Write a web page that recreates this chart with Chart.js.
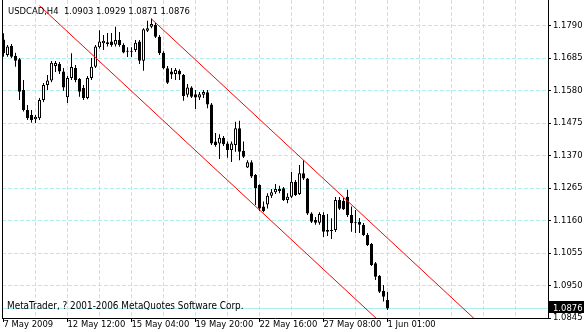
<!DOCTYPE html>
<html>
<head>
<meta charset="utf-8">
<script src="https://cdn.jsdelivr.net/npm/chart.js@4"></script>
<style>
  html, body { margin: 0; padding: 0; background: #fff; }
</style>
</head>
<body>
<canvas id="chart" width="584" height="332"></canvas>
<script>
// USDCAD H4 candles, one entry per bar (bar 0 = 7 May 2009)
const opens = [1.1745, 1.1695, 1.1724, 1.1692, 1.1681, 1.1582, 1.1517, 1.1501, 1.1487, 1.1490,
  1.1549, 1.1598, 1.1612, 1.1659, 1.1666, 1.1641, 1.1558, 1.1620, 1.1653, 1.1617,
  1.1588, 1.1556, 1.1620, 1.1657, 1.1720, 1.1733, 1.1736, 1.1738, 1.1729, 1.1743,
  1.1727, 1.1707, 1.1705, 1.1711, 1.1738, 1.1676, 1.1773, 1.1786, 1.1792, 1.1754,
  1.1702, 1.1652, 1.1641, 1.1633, 1.1644, 1.1630, 1.1566, 1.1590, 1.1568, 1.1557,
  1.1566, 1.1574, 1.1535, 1.1415, 1.1409, 1.1427, 1.1409, 1.1388, 1.1404, 1.1458,
  1.1385, 1.1331, 1.1348, 1.1307, 1.1275, 1.1205, 1.1212, 1.1240, 1.1251, 1.1262,
  1.1264, 1.1226, 1.1237, 1.1285, 1.1246, 1.1313, 1.1296, 1.1183, 1.1162, 1.1153,
  1.1178, 1.1124, 1.1129, 1.1129, 1.1226, 1.1224, 1.1237, 1.1178, 1.1151, 1.1156,
  1.1146, 1.1113, 1.1084, 1.1022, 1.0981, 1.0933, 1.0903];
const highs = [1.1765, 1.1727, 1.1730, 1.1702, 1.1685, 1.1614, 1.1533, 1.1517, 1.1501, 1.1556,
  1.1604, 1.1630, 1.1675, 1.1675, 1.1672, 1.1653, 1.1627, 1.1700, 1.1662, 1.1620,
  1.1598, 1.1627, 1.1685, 1.1727, 1.1775, 1.1759, 1.1766, 1.1766, 1.1786, 1.1769,
  1.1733, 1.1720, 1.1720, 1.1743, 1.1743, 1.1781, 1.1805, 1.1813, 1.1798, 1.1759,
  1.1707, 1.1659, 1.1653, 1.1653, 1.1649, 1.1633, 1.1601, 1.1594, 1.1582, 1.1575,
  1.1582, 1.1582, 1.1540, 1.1443, 1.1439, 1.1433, 1.1415, 1.1415, 1.1479, 1.1482,
  1.1415, 1.1355, 1.1355, 1.1310, 1.1277, 1.1221, 1.1248, 1.1262, 1.1278, 1.1272,
  1.1268, 1.1248, 1.1317, 1.1291, 1.1339, 1.1355, 1.1297, 1.1187, 1.1171, 1.1187,
  1.1187, 1.1181, 1.1167, 1.1236, 1.1236, 1.1233, 1.1259, 1.1205, 1.1194, 1.1168,
  1.1152, 1.1120, 1.1087, 1.1026, 1.0984, 1.0952, 1.0929];
const lows = [1.1689, 1.1689, 1.1685, 1.1657, 1.1549, 1.1512, 1.1485, 1.1476, 1.1475, 1.1485,
  1.1543, 1.1582, 1.1607, 1.1640, 1.1633, 1.1579, 1.1540, 1.1614, 1.1607, 1.1560,
  1.1549, 1.1552, 1.1614, 1.1653, 1.1716, 1.1711, 1.1722, 1.1721, 1.1722, 1.1721,
  1.1700, 1.1688, 1.1688, 1.1704, 1.1666, 1.1644, 1.1769, 1.1781, 1.1750, 1.1695,
  1.1649, 1.1601, 1.1617, 1.1614, 1.1614, 1.1547, 1.1558, 1.1556, 1.1520, 1.1549,
  1.1556, 1.1523, 1.1404, 1.1398, 1.1359, 1.1401, 1.1363, 1.1349, 1.1382, 1.1355,
  1.1362, 1.1330, 1.1297, 1.1210, 1.1191, 1.1187, 1.1199, 1.1233, 1.1246, 1.1248,
  1.1223, 1.1216, 1.1233, 1.1239, 1.1242, 1.1291, 1.1178, 1.1152, 1.1146, 1.1146,
  1.1107, 1.1110, 1.1100, 1.1123, 1.1194, 1.1194, 1.1171, 1.1124, 1.1120, 1.1120,
  1.1110, 1.1078, 1.1013, 1.0968, 1.0926, 1.0898, 1.0871];
const closes = [1.1700, 1.1722, 1.1689, 1.1676, 1.1576, 1.1517, 1.1490, 1.1485, 1.1495, 1.1549,
  1.1598, 1.1612, 1.1670, 1.1669, 1.1641, 1.1590, 1.1620, 1.1656, 1.1614, 1.1576,
  1.1556, 1.1620, 1.1657, 1.1722, 1.1738, 1.1741, 1.1730, 1.1727, 1.1743, 1.1727,
  1.1703, 1.1705, 1.1708, 1.1734, 1.1676, 1.1778, 1.1781, 1.1795, 1.1754, 1.1700,
  1.1652, 1.1605, 1.1632, 1.1646, 1.1632, 1.1562, 1.1590, 1.1560, 1.1557, 1.1568,
  1.1575, 1.1535, 1.1409, 1.1404, 1.1427, 1.1406, 1.1388, 1.1409, 1.1458, 1.1382,
  1.1366, 1.1348, 1.1302, 1.1264, 1.1199, 1.1191, 1.1240, 1.1251, 1.1262, 1.1255,
  1.1226, 1.1237, 1.1285, 1.1242, 1.1313, 1.1296, 1.1183, 1.1156, 1.1153, 1.1181,
  1.1124, 1.1129, 1.1126, 1.1226, 1.1198, 1.1196, 1.1178, 1.1151, 1.1153, 1.1146,
  1.1113, 1.1081, 1.1016, 1.0978, 1.0930, 1.0914, 1.0876];

const xLabels = ["7 May 2009", "12 May 12:00", "15 May 04:00", "19 May 20:00", "22 May 16:00", "27 May 08:00", "1 Jun 01:00"];
const xLabelBars = [0, 16, 32, 48, 64, 80, 96];
const yTicks = [1.0845, 1.0950, 1.1055, 1.1160, 1.1265, 1.1370, 1.1475, 1.1580, 1.1685, 1.1790];
// channel lines: [bar index, price] end points
const upperChannel = [{ x: 37, y: 1.1811 }, { x: 125, y: 1.0755 }];
const lowerChannel = [{ x: 9, y: 1.1854 }, { x: 100, y: 1.0762 }];

const symbolTitle = "USDCAD,H4";
const copyright = "MetaTrader, ? 2001-2006 MetaQuotes Software Corp.";

const FONT = '"DejaVu Sans Condensed", "Liberation Sans", sans-serif';
const FSIZE = 9.4;
const GRID = "#afeeee";

const n = closes.length;
const last = n - 1;
const wicks = closes.map((c, i) => ({ x: i, y: [lows[i], highs[i]] }));
const bodies = closes.map((c, i) => ({ x: i, y: [Math.min(opens[i], c), Math.max(opens[i], c)] }));
const bodyColors = closes.map((c, i) => (c >= opens[i] ? "#ffffff" : "#000000"));

const fmt = (v) => v.toFixed(4);
const isLabelBar = (v) => xLabelBars.includes(v);

// bid line, frame edge and the terminal texts
const mtOverlay = {
  id: "mtOverlay",
  beforeDatasetsDraw(chart) {
    const { ctx, chartArea: a } = chart;
    const yb = Math.round(chart.scales.y.getPixelForValue(closes[last])) + 0.5;
    ctx.save();
    ctx.strokeStyle = GRID;
    ctx.lineWidth = 1;
    ctx.beginPath();
    ctx.moveTo(a.left, yb);
    ctx.lineTo(a.right, yb);
    ctx.stroke();
    ctx.restore();
  },
  afterDraw(chart) {
    const { ctx, chartArea: a } = chart;
    const yb = Math.round(chart.scales.y.getPixelForValue(closes[last]));
    ctx.save();
    ctx.strokeStyle = "#000";
    ctx.lineWidth = 1;
    ctx.beginPath();
    ctx.moveTo(a.left + 0.5, a.top);
    ctx.lineTo(a.left + 0.5, a.bottom + 1);
    ctx.stroke();

    ctx.font = `${FSIZE}px ${FONT}`;
    ctx.fillStyle = "#000";
    ctx.textBaseline = "alphabetic";
    const ohlc = [opens[last], highs[last], lows[last], closes[last]].map(fmt).join(" ");
    ctx.fillText(`${symbolTitle}  ${ohlc}`, 8, 14);
    ctx.font = `9.9px ${FONT}`;
    ctx.fillText(copyright, 7, 309);

    ctx.font = `${FSIZE}px ${FONT}`;
    ctx.fillRect(a.right + 1, yb - 7, 35, 12);
    ctx.fillStyle = "#fff";
    ctx.fillText(fmt(closes[last]), a.right + 5, yb + 3);
    ctx.restore();
  },
};

new Chart(document.getElementById("chart"), {
  type: "bar",
  data: {
    datasets: [
      {
        type: "line",
        data: upperChannel,
        borderColor: "#ff0000",
        borderWidth: 1,
        pointRadius: 0,
        order: 1,
      },
      {
        type: "line",
        data: lowerChannel,
        borderColor: "#ff0000",
        borderWidth: 1,
        pointRadius: 0,
        order: 1,
      },
      {
        data: bodies,
        backgroundColor: bodyColors,
        borderColor: "#000",
        borderWidth: 1,
        borderSkipped: false,
        barThickness: 3,
        minBarLength: 1,
        inflateAmount: 0,
        grouped: false,
        order: 2,
      },
      {
        data: wicks,
        backgroundColor: "#000",
        borderWidth: 0,
        barThickness: 1,
        inflateAmount: 0,
        grouped: false,
        order: 3,
      },
    ],
  },
  options: {
    responsive: false,
    animation: false,
    events: [],
    layout: { padding: { left: 2, top: 0, right: 0, bottom: 0 } },
    plugins: { legend: { display: false }, tooltip: { enabled: false } },
    scales: {
      x: {
        type: "linear",
        position: "bottom",
        offset: false,
        min: -0.375,
        max: 136.125,
        afterBuildTicks: (scale) => {
          const t = [];
          for (let v = 0; v <= 136; v += 8) t.push({ value: v });
          scale.ticks = t;
        },
        afterFit: (scale) => {
          scale.height = 14;
          scale.paddingLeft = 0;
          scale.paddingRight = 0;
        },
        ticks: {
          autoSkip: false,
          maxRotation: 0,
          minRotation: 0,
          align: "start",
          padding: -2,
          color: "#000",
          font: { family: FONT, size: FSIZE, lineHeight: 1 },
          callback: (v) => (isLabelBar(v) ? xLabels[xLabelBars.indexOf(v)] : ""),
        },
        grid: {
          offset: false,
          color: (ctx) => (ctx.tick && (ctx.tick.value === 0 || ctx.tick.value === 136) ? "transparent" : GRID),
          tickColor: (ctx) => (ctx.tick && isLabelBar(ctx.tick.value) ? "#000" : "transparent"),
          tickLength: 4,
          tickBorderDash: [],
        },
        border: { display: true, color: "#000", width: 1, dash: [4, 2] },
      },
      y: {
        type: "linear",
        position: "right",
        min: 1.0845,
        max: 1.18724,
        afterBuildTicks: (scale) => {
          scale.ticks = yTicks.map((v) => ({ value: v }));
        },
        afterFit: (scale) => {
          scale.width = 36;
          scale.paddingTop = 0;
          scale.paddingBottom = 0;
        },
        ticks: {
          padding: 2,
          color: "#000",
          font: { family: FONT, size: FSIZE },
          callback: (v) => fmt(v),
        },
        grid: {
          color: (ctx) => (ctx.tick && ctx.tick.value === yTicks[0] ? "transparent" : GRID),
          tickColor: "#000",
          tickLength: 3,
          tickBorderDash: [],
        },
        border: { display: true, color: "#000", width: 1, dash: [4, 2] },
      },
    },
  },
  plugins: [mtOverlay],
});
</script>
</body>
</html>
